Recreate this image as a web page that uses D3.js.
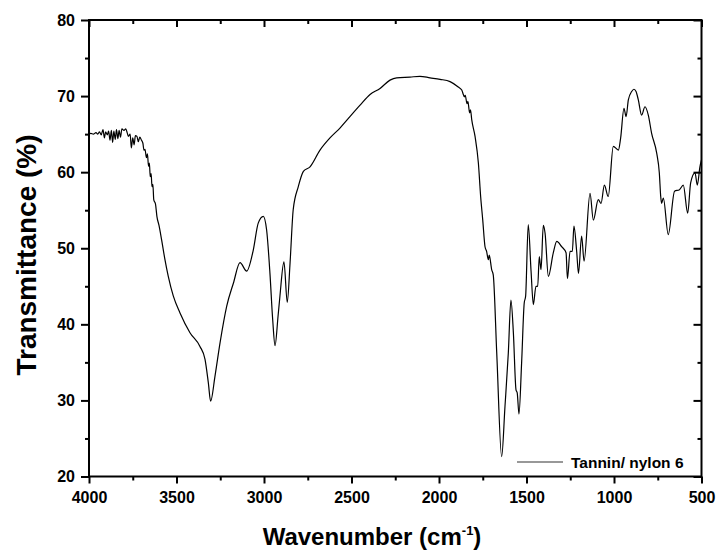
<!DOCTYPE html>
<html><head><meta charset="utf-8">
<script src="https://cdn.jsdelivr.net/npm/d3@7/dist/d3.min.js"></script>
<style>
html,body{margin:0;padding:0;background:#fff;}
svg text{font-family:"Liberation Sans",Arial,sans-serif;font-weight:bold;fill:#000;}
</style></head>
<body><svg id="c" width="716" height="552"></svg>
<script>
// Data: wavenumber (cm-1) and transmittance (%)
const wavenumber = [4000,3990,3975,3960,3950,3940,3930,3920,3912,3905,3895,3888,3880,3872,3865,3858,3850,3843,3835,3828,3820,3812,3800,3790,3782,3775,3765,3758,3750,3742,3735,3726,3718,3710,3700,3692,3686,3680,3672,3666,3660,3655,3650,3645,3640,3635,3630,3620,3612,3600,3585,3566,3547,3518,3480,3423,3366,3337,3318,3305,3280,3251,3213,3175,3137,3099,3061,3033,3004,2985,2966,2950,2937,2920,2909,2886,2867,2851,2833,2804,2775,2737,2680,2623,2566,2509,2451,2394,2337,2280,2242,2166,2109,2051,1994,1937,1890,1870,1861,1855,1850,1840,1835,1825,1820,1813,1794,1775,1762,1750,1737,1728,1718,1713,1699,1690,1670,1642,1623,1604,1589,1575,1560,1553,1543,1528,1513,1505,1490,1474,1461,1446,1436,1427,1417,1404,1394,1375,1347,1327,1299,1274,1266,1251,1238,1229,1213,1203,1185,1171,1137,1118,1090,1074,1055,1033,1004,975,962,943,931,918,899,886,874,861,842,823,804,785,756,741,733,728,718,690,654,626,604,579,562,537,524,509,500];
const transmittance = [65.0,65.1,65.0,65.2,65.0,65.3,64.9,65.6,64.5,65.3,64.9,65.4,64.2,65.5,63.9,65.4,64.3,65.6,64.4,65.5,64.6,65.7,65.5,65.7,65.2,64.7,65.0,63.2,64.5,63.6,64.8,64.7,64.0,64.6,64.2,63.8,62.9,63.0,61.9,62.4,60.8,61.2,59.4,59.8,58.1,58.4,56.4,55.8,54.2,53.0,51.1,48.5,46.3,43.7,41.5,38.9,37.1,35.4,32.3,29.9,33.2,37.6,42.4,45.4,48.1,47.0,49.8,53.3,54.2,52.4,46.7,40.5,37.2,41.0,43.7,48.2,42.9,48.1,55.1,58.1,60.1,60.7,62.9,64.5,65.8,67.3,68.8,70.2,71.0,72.1,72.4,72.5,72.6,72.4,72.2,71.9,71.2,70.8,70.2,69.9,70.1,69.0,69.3,67.8,68.2,66.9,64.7,61.2,56.8,53.7,50.2,49.6,48.5,49.1,47.2,46.5,36.2,22.6,29.2,36.2,43.2,38.9,31.4,31.0,28.2,34.9,42.8,43.7,53.1,47.0,42.6,45.0,45.0,48.9,47.2,53.0,52.0,46.3,49.4,50.9,50.2,49.4,46.0,49.6,49.6,52.9,49.5,46.7,51.6,48.3,57.2,53.7,56.4,55.9,58.3,56.8,63.4,62.9,64.5,68.4,67.3,69.5,70.6,70.9,70.6,69.5,67.5,68.6,67.5,65.1,62.5,59.9,56.8,55.9,56.6,51.8,57.5,57.7,58.3,54.6,58.6,59.9,58.3,60.7,61.6];
const xMajorTicks = [4000,3500,3000,2500,2000,1500,1000,500];
const xMinorTicks = [3750,3250,2750,2250,1750,1250,750];
const yMajorTicks = [20,30,40,50,60,70,80];
const yMinorTicks = [25,35,45,55,65,75];
const seriesName = "Tannin/ nylon 6";

const svg = d3.select("#c");
const L = 89, R = 701.5, T = 20, B = 476.5;
const x = d3.scaleLinear().domain([4000,500]).range([L,R]);
const y = d3.scaleLinear().domain([20,80]).range([B,T]);

const pts = wavenumber.map((w,i)=>[w,transmittance[i]]);
svg.append("path").datum(pts)
  .attr("fill","none").attr("stroke","#000").attr("stroke-width",1.2)
  .attr("stroke-linejoin","round")
  .attr("d", d3.line().curve(d3.curveMonotoneX).x(d=>x(d[0])).y(d=>y(d[1])));

function styleAxis(g){
  g.select(".domain").remove();
  g.selectAll("line").attr("stroke","#000").attr("stroke-width",2);
  g.selectAll("text").attr("font-size",16).attr("font-family",'"Liberation Sans",Arial,sans-serif').attr("font-weight","bold");
}
// bottom
svg.append("g").attr("transform",`translate(0,${B})`)
  .call(d3.axisBottom(x).tickValues(xMajorTicks).tickSize(7).tickPadding(8).tickFormat(d3.format("d"))).call(styleAxis);
svg.append("g").attr("transform",`translate(0,${B})`)
  .call(d3.axisBottom(x).tickValues(xMinorTicks).tickSize(4).tickFormat("")).call(styleAxis);
// top (inward)
svg.append("g").attr("transform",`translate(0,${T})`)
  .call(d3.axisTop(x).tickValues(xMajorTicks).tickSize(-7).tickFormat("")).call(styleAxis);
svg.append("g").attr("transform",`translate(0,${T})`)
  .call(d3.axisTop(x).tickValues(xMinorTicks).tickSize(-4).tickFormat("")).call(styleAxis);
// left
svg.append("g").attr("transform",`translate(${L},0)`)
  .call(d3.axisLeft(y).tickValues(yMajorTicks).tickSize(8).tickPadding(6)).call(styleAxis);
svg.append("g").attr("transform",`translate(${L},0)`)
  .call(d3.axisLeft(y).tickValues(yMinorTicks).tickSize(4).tickFormat("")).call(styleAxis);
// right (inward)
svg.append("g").attr("transform",`translate(${R},0)`)
  .call(d3.axisRight(y).tickValues(yMajorTicks).tickSize(-8).tickFormat("")).call(styleAxis);
svg.append("g").attr("transform",`translate(${R},0)`)
  .call(d3.axisRight(y).tickValues(yMinorTicks).tickSize(-4).tickFormat("")).call(styleAxis);

// frame
svg.append("rect").attr("x",L).attr("y",T).attr("width",R-L).attr("height",B-T)
  .attr("fill","none").attr("stroke","#000").attr("stroke-width",2);

// legend
const lg = svg.append("g");
lg.append("line").attr("x1",517).attr("x2",563).attr("y1",462).attr("y2",462)
  .attr("stroke","#333").attr("stroke-width",1.2);
lg.append("text").attr("x",571).attr("y",468).attr("font-size",15.5).text(seriesName);

// axis titles
const xt = svg.append("text").attr("x",372).attr("y",545).attr("text-anchor","middle").attr("font-size",24);
xt.append("tspan").text("Wavenumber (cm");
xt.append("tspan").attr("dy",-10).attr("font-size",13).text("-1");
xt.append("tspan").attr("dy",10).text(")");

svg.append("text").attr("transform",`translate(36,255) rotate(-90)`)
  .attr("text-anchor","middle").attr("font-size",28).text("Transmittance (%)");
</script></body></html>
